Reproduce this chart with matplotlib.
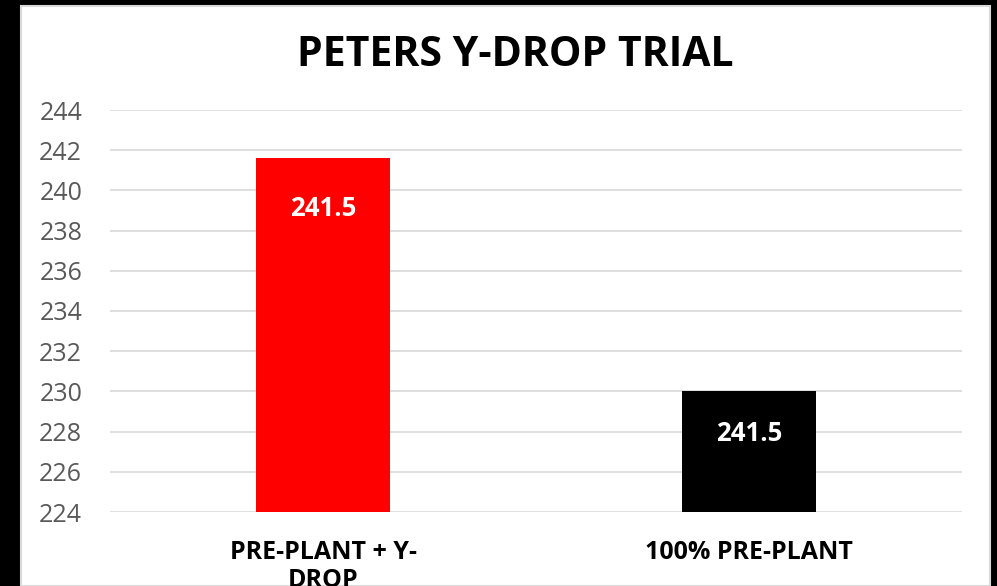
import matplotlib.pyplot as plt
from matplotlib.patches import Rectangle

categories = ["PRE-PLANT + Y-\nDROP", "100% PRE-PLANT"]
values = [241.6, 230.0]
bar_labels = ["241.5", "241.5"]
bar_colors = ["#ff0000", "#000000"]
yticks = [224, 226, 228, 230, 232, 234, 236, 238, 240, 242, 244]

plt.rcParams['font.family'] = ['Open Sans', 'DejaVu Sans']

W, H = 997, 586
fig = plt.figure(figsize=(W / 100, H / 100), dpi=100)
fig.patch.set_facecolor('black')

# white chart panel inside the black frame
fig.add_artist(Rectangle((21 / W, 0), (990 - 21) / W, (586 - 6) / H,
                         transform=fig.transFigure, facecolor='white',
                         edgecolor='#d9d9d9', linewidth=1.5, zorder=0))

ax = fig.add_axes([110 / W, 74 / H, (962 - 110) / W, (512 - 110) / H])
ax.set_facecolor('none')

x = range(len(categories))
bars = ax.bar(x, values, width=0.315, color=bar_colors, zorder=3)
ax.set_xlim(-0.5, len(categories) - 0.5)
ax.set_ylim(224, 244)
ax.set_yticks(yticks)
ax.yaxis.grid(True, color='#d9d9d9', linewidth=1.2, zorder=0)

for b, lab, off in zip(bars, bar_labels, [-36, -30]):
    ax.annotate(lab, (b.get_x() + b.get_width() / 2, b.get_height()),
                xytext=(0, off), textcoords='offset points',
                ha='center', va='center', color='white',
                fontsize=18.5, fontweight='bold', zorder=4)

ax.set_xticks(list(x))
ax.set_xticklabels(categories, fontsize=18, fontweight='bold', color='black',
                   linespacing=1.15)
ax.tick_params(axis='x', length=0, pad=20)
ax.tick_params(axis='y', length=0, pad=20, labelsize=18, labelcolor='#595959')
for s in ax.spines.values():
    s.set_visible(False)

fig.text(515 / W, 1 - 55 / H, "PETERS Y-DROP TRIAL", ha='center', va='center',
         fontsize=29.5, fontweight='bold', color='black')

fig.savefig('out.png', dpi=100, facecolor=fig.get_facecolor())
